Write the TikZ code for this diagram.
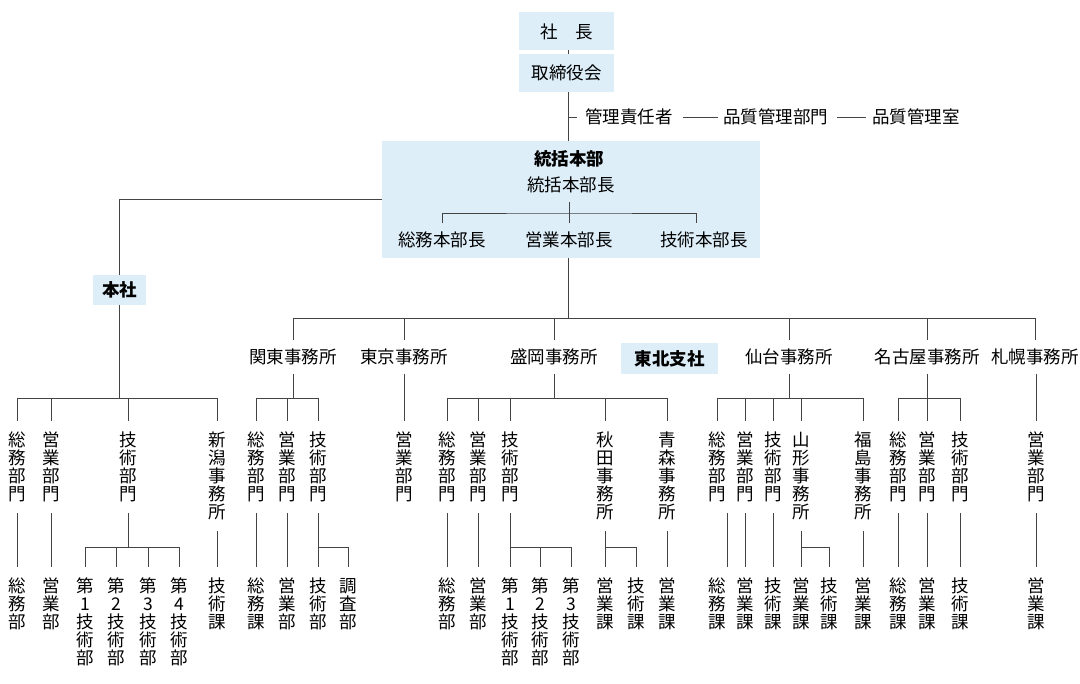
\documentclass[tikz,border=0pt]{standalone}
\usepackage{fontspec}
\newfontfamily\cjk{Noto Sans CJK JP}
\definecolor{boxblue}{HTML}{DDEEF9}
\definecolor{lncol}{HTML}{444444}
\newcommand\orgbr[5]{%
  \draw[ln] (#1.south) -- (#1.south |- 0,#2);
  \draw[ln] (#3.north |- 0,#2) -- (#4.north |- 0,#2);
  \foreach \c in {#5} {\draw[ln] (\c.north |- 0,#2) -- (\c.north);}
}
\begin{document}
\begin{tikzpicture}[x=1pt,y=-1pt,
  ln/.style={draw=lncol,line width=0.9pt},
  box/.style={fill=boxblue,inner sep=0pt,outer sep=0pt,font=\cjk\fontsize{17.5}{18}\selectfont},
  lab/.style={inner sep=0pt,outer xsep=0pt,outer ysep=9pt,font=\cjk\fontsize{17.5}{18}\selectfont},
  vlab/.style={lab,align=center,anchor=north,outer ysep=11pt},
  bt/.style={font=\cjk\bfseries\fontsize{17.5}{18}\selectfont}]
\useasboundingbox (0,0) rectangle (1080,684);
\coordinate (spine) at (568,0);
% top
\node[box,minimum width=95pt,minimum height=38pt] (pres) at (566.5,31.5) {社　長};
\node[box,minimum width=95pt,minimum height=38pt] (board) at (566.5,73) {取締役会};
\node[box,minimum width=378pt,minimum height=117pt] (hq) at (571,199.5) {};
\node[lab,bt] (hqt) at (569,159) {統括本部};
\node[lab] (hqm) at (571,185) {統括本部長};
\node[lab] (hq1) at (442,240) {総務本部長};
\node[lab] (hq2) at (569,240) {営業本部長};
\node[lab] (hq3) at (704,240) {技術本部長};
\node[lab,anchor=west,outer xsep=8pt] (qm) at (577,117) {管理責任者};
\node[lab,anchor=west] (qd) at (723,117) {品質管理部門};
\node[lab,anchor=west] (qr) at (872,117) {品質管理室};
\draw[ln] (pres.south -| spine) -- (board.north -| spine);
\draw[ln] (board.south -| spine) -- (hq.north -| spine);
\draw[ln] (spine |- qm.west) -- (qm.west);
\draw[ln,shorten <=2pt,shorten >=5pt] (qm.east) -- (qd.west);
\draw[ln,shorten <=9pt,shorten >=6pt] (qd.east) -- (qr.west);
\coordinate (hqb) at (569,213);
\draw[ln] (hqm.south -| hqb) -- (hq2.north);
\draw[ln] (hq1.north) |- (hqb) -| ([xshift=-8pt]hq3.north);
% honsha
\node[box,bt,minimum width=53pt,minimum height=30pt] (honsha) at (119.5,290) {本社};
\draw[ln] (hq.west) -| (honsha.north);
% offices
\node[box,bt,minimum width=97pt,minimum height=31pt] (tohoku) at (669.5,358.5) {東北支社};
\node[lab] (kanto) at (293,357) {関東事務所};
\node[lab] (tokyo) at (404,357) {東京事務所};
\node[lab] (morioka) at (554,357) {盛岡事務所};
\node[lab] (sendai) at (789,357) {仙台事務所};
\node[lab] (nagoya) at (927,357) {名古屋事務所};
\node[lab] (sapporo) at (1035,357) {札幌事務所};
\draw[ln] (hq.south -| spine) -- (spine |- 0,318);
\draw[ln] (kanto.north |- 0,318) -- (sapporo.north |- 0,318);
\foreach \o in {kanto,tokyo,morioka,sendai,nagoya,sapporo} {\draw[ln] (\o.north |- 0,318) -- (\o.north);}
% honsha group
\node[vlab] (h1) at (17,421) {総\\務\\部\\門};
\node[vlab] (h2) at (51,421) {営\\業\\部\\門};
\node[vlab] (h3) at (128,421) {技\\術\\部\\門};
\node[vlab] (h4) at (217,421) {新\\潟\\事\\務\\所};
\node[vlab] (h1a) at (17,567) {総\\務\\部};
\node[vlab] (h2a) at (51,567) {営\\業\\部};
\node[vlab] (h3a) at (85,567) {第\\1\\技\\術\\部};
\node[vlab] (h3b) at (116,567) {第\\2\\技\\術\\部};
\node[vlab] (h3c) at (148,567) {第\\3\\技\\術\\部};
\node[vlab] (h3d) at (179,567) {第\\4\\技\\術\\部};
\node[vlab] (h4a) at (217,567) {技\\術\\課};
\orgbr{honsha}{398}{h1}{h4}{h1,h2,h3,h4}
\draw[ln] (h1.south) -- (h1a.north);
\draw[ln] (h2.south) -- (h2a.north);
\draw[ln] (h4.south) -- (h4a.north);
\orgbr{h3}{547}{h3a}{h3d}{h3a,h3b,h3c,h3d}
% kanto group
\node[vlab] (k1) at (256,421) {総\\務\\部\\門};
\node[vlab] (k2) at (287,421) {営\\業\\部\\門};
\node[vlab] (k3) at (318.5,421) {技\\術\\部\\門};
\node[vlab] (k1a) at (256,567) {総\\務\\課};
\node[vlab] (k2a) at (287,567) {営\\業\\部};
\node[vlab] (k3a) at (318.5,567) {技\\術\\部};
\node[vlab] (k3b) at (348,567) {調\\査\\部};
\orgbr{kanto}{398}{k1}{k3}{k1,k2,k3}
\draw[ln] (k1.south) -- (k1a.north);
\draw[ln] (k2.south) -- (k2a.north);
\orgbr{k3}{547}{k3a}{k3b}{k3a,k3b}
% tokyo
\node[vlab] (t1) at (404,421) {営\\業\\部\\門};
\draw[ln] (tokyo.south) -- (t1.north);
% morioka group
\node[vlab] (m1) at (447,421) {総\\務\\部\\門};
\node[vlab] (m2) at (478,421) {営\\業\\部\\門};
\node[vlab] (m3) at (510,421) {技\\術\\部\\門};
\node[vlab] (m4) at (605,421) {秋\\田\\事\\務\\所};
\node[vlab] (m5) at (667,421) {青\\森\\事\\務\\所};
\node[vlab] (m1a) at (447,567) {総\\務\\部};
\node[vlab] (m2a) at (478,567) {営\\業\\部};
\node[vlab] (m3a) at (510,567) {第\\1\\技\\術\\部};
\node[vlab] (m3b) at (540,567) {第\\2\\技\\術\\部};
\node[vlab] (m3c) at (571,567) {第\\3\\技\\術\\部};
\node[vlab] (m4a) at (605,567) {営\\業\\課};
\node[vlab] (m4b) at (636,567) {技\\術\\課};
\node[vlab] (m5a) at (667,567) {営\\業\\課};
\orgbr{morioka}{398}{m1}{m5}{m1,m2,m3,m4,m5}
\draw[ln] (m1.south) -- (m1a.north);
\draw[ln] (m2.south) -- (m2a.north);
\draw[ln] (m5.south) -- (m5a.north);
\orgbr{m3}{547}{m3a}{m3c}{m3a,m3b,m3c}
\orgbr{m4}{547}{m4a}{m4b}{m4a,m4b}
% sendai group
\node[vlab] (s1) at (717,421) {総\\務\\部\\門};
\node[vlab] (s2) at (745,421) {営\\業\\部\\門};
\node[vlab] (s3) at (773,421) {技\\術\\部\\門};
\node[vlab] (s4) at (801,421) {山\\形\\事\\務\\所};
\node[vlab] (s5) at (863,421) {福\\島\\事\\務\\所};
\node[vlab] (s1a) at (717,567) {総\\務\\課};
\node[vlab] (s2a) at (745,567) {営\\業\\課};
\node[vlab] (s3a) at (773,567) {技\\術\\課};
\node[vlab] (s4a) at (801,567) {営\\業\\課};
\node[vlab] (s4b) at (829,567) {技\\術\\課};
\node[vlab] (s5a) at (863,567) {営\\業\\課};
\orgbr{sendai}{398}{s1}{s5}{s1,s2,s3,s4,s5}
\draw[ln] ([xshift=10pt]s1.south) -- ([xshift=10pt]s1a.north);
\draw[ln] (s2.south) -- (s2a.north);
\draw[ln] (s3.south) -- (s3a.north);
\draw[ln] (s5.south) -- (s5a.north);
\orgbr{s4}{547}{s4a}{s4b}{s4a,s4b}
% nagoya group
\node[vlab] (n1) at (898,421) {総\\務\\部\\門};
\node[vlab] (n2) at (927,421) {営\\業\\部\\門};
\node[vlab] (n3) at (960,421) {技\\術\\部\\門};
\node[vlab] (n1a) at (898,567) {総\\務\\課};
\node[vlab] (n2a) at (927,567) {営\\業\\課};
\node[vlab] (n3a) at (960,567) {技\\術\\課};
\orgbr{nagoya}{398}{n1}{n3}{n1,n2,n3}
\draw[ln] (n1.south) -- (n1a.north);
\draw[ln] (n2.south) -- (n2a.north);
\draw[ln] (n3.south) -- (n3a.north);
% sapporo
\node[vlab] (p1) at (1036,421) {営\\業\\部\\門};
\node[vlab] (p1a) at (1036,567) {営\\業\\課};
\draw[ln] (sapporo.south -| p1.north) -- (p1.north);
\draw[ln] (p1.south) -- (p1a.north);
\end{tikzpicture}
\end{document}
